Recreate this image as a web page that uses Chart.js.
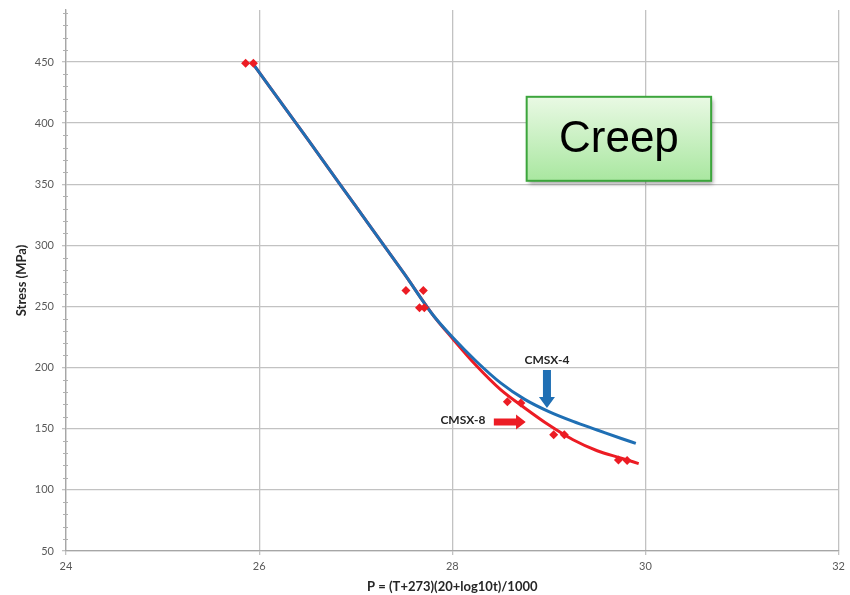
<!DOCTYPE html>
<html>
<head>
<meta charset="utf-8">
<script src="https://cdn.jsdelivr.net/npm/chart.js@4"></script>
<style>
  body { margin: 0; background: #fff; }
  #wrap { width: 850px; height: 595px; }
</style>
</head>
<body>
<div id="wrap"><canvas id="creepGrafik"></canvas></div>
<script>
// measured points, CMSX-8
const cmsx8P = [25.86, 25.94, 27.52, 27.70, 27.66, 27.71, 28.57, 28.71, 29.05, 29.16, 29.72, 29.81];
const cmsx8S = [449, 449, 263, 263, 249, 249, 172, 171, 145, 145, 124.5, 124];

// fitted curves
const fit8P = [25.95, 26.5, 27.0, 27.5, 27.8, 28.0, 28.25, 28.5, 28.75, 29.0, 29.25, 29.5, 29.75, 29.93];
const fit8S = [447, 387, 332, 277, 243, 224, 201.5, 182, 167, 153, 141, 132, 126, 121.5];
const fit4P = [25.95, 26.5, 27.0, 27.5, 27.8, 28.0, 28.25, 28.5, 28.75, 29.0, 29.25, 29.5, 29.75, 29.9];
const fit4S = [447, 387, 332, 277, 243, 225, 205, 187.5, 174, 164, 156, 149, 142, 138];

const xTicks = [24, 26, 28, 30, 32];
const yTicks = [50, 100, 150, 200, 250, 300, 350, 400, 450];

const tickFont = { family: "Lato", size: 11 };
const titleFont = { family: "Lato", size: 13, weight: "bold" };

function noktalar(xs, ys) {
    return xs.map((x, i) => ({ x: x, y: ys[i] }));
}

// arrows, labels and the Creep box, in data units
const ekler = {
    id: "ekler",
    afterDraw(chart) {
        const ctx = chart.ctx;
        const xs = chart.scales.x;
        const ys = chart.scales.y;
        const X = v => xs.getPixelForValue(v);
        const Y = v => ys.getPixelForValue(v);

        // minor ticks on the y axis
        ctx.save();
        ctx.strokeStyle = "#b0b0b0";
        ctx.lineWidth = 1;
        for (let v = 60; v < 492; v += 10) {
            if (v % 50 === 0) continue;
            const y = Math.round(Y(v)) + 0.5;
            ctx.beginPath();
            ctx.moveTo(X(24) - 3, y);
            ctx.lineTo(X(24) + 2, y);
            ctx.stroke();
        }
        ctx.restore();

        // blue arrow (down)
        ctx.save();
        ctx.fillStyle = "#1f6fb4";
        const bx = X(28.98);
        const bTop = Y(198), bNeck = Y(176), bTip = Y(167);
        ctx.beginPath();
        ctx.moveTo(bx - 4, bTop);
        ctx.lineTo(bx + 4, bTop);
        ctx.lineTo(bx + 4, bNeck);
        ctx.lineTo(bx + 8, bNeck);
        ctx.lineTo(bx, bTip);
        ctx.lineTo(bx - 8, bNeck);
        ctx.lineTo(bx - 4, bNeck);
        ctx.closePath();
        ctx.fill();

        // red arrow (right)
        ctx.fillStyle = "#ec1c24";
        const ry = Y(155.5);
        const rL = X(28.43), rNeck = X(28.66), rTip = X(28.76);
        ctx.beginPath();
        ctx.moveTo(rL, ry - 3.5);
        ctx.lineTo(rNeck, ry - 3.5);
        ctx.lineTo(rNeck, ry - 7.5);
        ctx.lineTo(rTip, ry);
        ctx.lineTo(rNeck, ry + 7.5);
        ctx.lineTo(rNeck, ry + 3.5);
        ctx.lineTo(rL, ry + 3.5);
        ctx.closePath();
        ctx.fill();

        // labels
        ctx.fillStyle = "#262626";
        ctx.font = "bold 12px Lato";
        ctx.textAlign = "center";
        ctx.textBaseline = "middle";
        ctx.fillText("CMSX-4", X(28.98), Y(206));
        ctx.fillText("CMSX-8", X(28.11), Y(157));
        ctx.restore();

        // Creep box
        const l = X(28.77), r = X(30.68), t = Y(421.5), b = Y(352.8);
        ctx.save();
        ctx.shadowColor = "rgba(0,0,0,0.35)";
        ctx.shadowBlur = 4;
        ctx.shadowOffsetX = 2;
        ctx.shadowOffsetY = 3;
        const grad = ctx.createLinearGradient(0, t, 0, b);
        grad.addColorStop(0, "#e9f9e4");
        grad.addColorStop(1, "#a9e7a0");
        ctx.fillStyle = grad;
        ctx.fillRect(l, t, r - l, b - t);
        ctx.restore();
        ctx.save();
        ctx.strokeStyle = "#3ca53c";
        ctx.lineWidth = 2;
        ctx.strokeRect(l, t, r - l, b - t);
        ctx.fillStyle = "#000";
        ctx.font = "44px 'Liberation Sans'";
        ctx.textAlign = "center";
        ctx.textBaseline = "middle";
        ctx.fillText("Creep", (l + r) / 2, (t + b) / 2 + 1);
        ctx.restore();
    }
};

new Chart(document.getElementById("creepGrafik"), {
    type: "scatter",
    data: {
        datasets: [
            {
                label: "CMSX-8 data",
                data: noktalar(cmsx8P, cmsx8S),
                pointStyle: "rectRot",
                pointRadius: 4.5,
                pointBackgroundColor: "#ec1c24",
                pointBorderColor: "#ec1c24",
                pointBorderWidth: 0,
                showLine: false,
                order: 0
            },
            {
                label: "CMSX-4",
                data: noktalar(fit4P, fit4S),
                showLine: true,
                borderColor: "#1f6fb4",
                borderWidth: 3,
                pointRadius: 0,
                cubicInterpolationMode: "monotone",
                order: 1
            },
            {
                label: "CMSX-8",
                data: noktalar(fit8P, fit8S),
                showLine: true,
                borderColor: "#ec1c24",
                borderWidth: 3,
                pointRadius: 0,
                cubicInterpolationMode: "monotone",
                order: 2
            }
        ]
    },
    options: {
        responsive: true,
        maintainAspectRatio: false,
        animation: false,
        layout: { padding: { top: 10, right: 10, left: 0, bottom: 0 } },
        plugins: {
            legend: { display: false },
            tooltip: { enabled: false }
        },
        scales: {
            x: {
                type: "linear",
                min: 24,
                max: 32,
                afterBuildTicks: s => { s.ticks = xTicks.map(v => ({ value: v })); },
                afterFit: s => { s.height = 44; },
                grid: { color: "#c2c2c2", lineWidth: 1.3, tickLength: 4 },
                border: { color: "#a6a6a6", width: 1.3 },
                ticks: { font: tickFont, color: "#595959", padding: 5 },
                title: {
                    display: true,
                    text: "P = (T+273)(20+log10t)/1000",
                    font: titleFont,
                    color: "#262626",
                    padding: { top: 0, bottom: 0 }
                }
            },
            y: {
                min: 50,
                max: 492.5,
                afterBuildTicks: s => { s.ticks = yTicks.map(v => ({ value: v })); },
                afterFit: s => { s.width = 66; s.paddingTop = 0; s.paddingBottom = 0; },
                grid: { color: "#c2c2c2", lineWidth: 1.3, tickLength: 4 },
                border: { color: "#a6a6a6", width: 1.3 },
                ticks: { font: tickFont, color: "#595959", padding: 8 },
                title: {
                    display: true,
                    text: "Stress (MPa)",
                    font: titleFont,
                    color: "#262626",
                    padding: { top: 14, bottom: 0 }
                }
            }
        }
    },
    plugins: [ekler]
});
</script>
</body>
</html>
